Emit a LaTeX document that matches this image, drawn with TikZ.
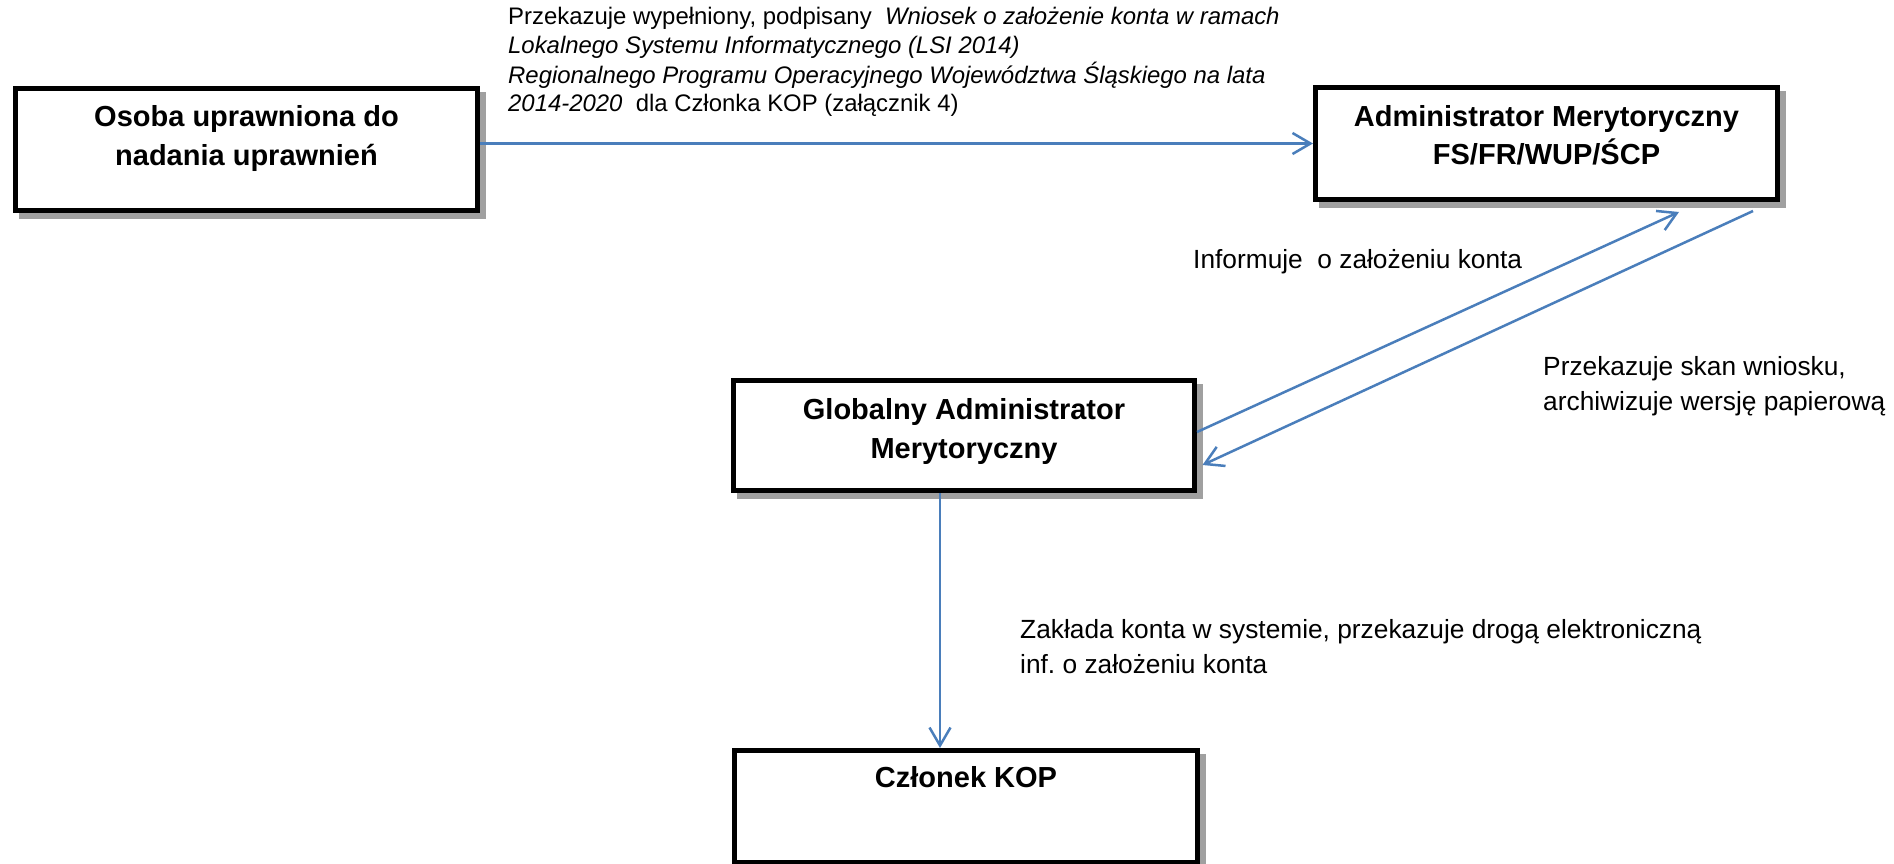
\documentclass[tikz,border=0pt]{standalone}
\usepackage{fontspec}
\setmainfont{Liberation Sans}
\frenchspacing
\usetikzlibrary{arrows.meta,calc,shadows}
\definecolor{arrowblue}{RGB}{74,126,187}
\definecolor{shadowgray}{RGB}{160,160,160}
\begin{document}
\begin{tikzpicture}[x=1pt,y=-1pt,
  box/.style={draw=black, line width=5pt, fill=white, rectangle, inner sep=0pt,
     drop shadow={shadow xshift=6pt, shadow yshift=-6pt, fill=shadowgray, draw=shadowgray, line width=5pt, opacity=1}},
  boxtext/.style={anchor=base, inner sep=0pt, font=\fontsize{29}{39}\selectfont\bfseries},
  lbl/.style={anchor=base west, inner sep=0pt, font=\fontsize{26.3}{35}\selectfont},
  smalllbl/.style={lbl, font=\fontsize{23.9}{28.4}\selectfont},
  flow/.style={draw=arrowblue, line width=2.5pt, -{Straight Barb[length=18pt,width=21pt]}},
]
\useasboundingbox (0,0) rectangle (1894,864);

% boxes
\node[box, minimum width=462pt, minimum height=122pt] (b1) at (246.5,149.5) {};
\node[box, minimum width=462pt, minimum height=112pt] (b2) at (1546.5,143.5) {};
\node[box, minimum width=461pt, minimum height=110pt] (b3) at (964,435.5) {};
\node[box, minimum width=463pt, minimum height=112pt] (b4) at (966,806.5) {};

% box texts
\node[boxtext] (t1) at ($(b1.north)+(0,41)$) {\begin{tabular}[t]{@{}c@{}}Osoba uprawniona do\\nadania uprawnień\end{tabular}};
\node[boxtext] (t2) at ($(b2.north)+(0,41)$) {\begin{tabular}[t]{@{}c@{}}Administrator Merytoryczny\\FS/FR/WUP/ŚCP\end{tabular}};
\node[boxtext] (t3) at ($(b3.north)+(0,41)$) {\begin{tabular}[t]{@{}c@{}}Globalny Administrator\\Merytoryczny\end{tabular}};
\node[boxtext] (t4) at ($(b4.north)+(0,39)$) {Członek KOP};

% connectors
\draw[flow] (b1.east |- b2.west) -- (b2.west);
\coordinate (aEnd) at ($(b2.south)+(132.5,10)$);
\draw[flow] ($(b3.east)+(0,-3.5)$) -- (aEnd);
\coordinate (bStart) at ($(b2.south)+(206.5,9)$);
\coordinate (bEnd) at ($(b3.east)+(5.5,29.5)$);
\draw[flow] (bStart) -- (bEnd);
\draw[flow] ($(b3.south)+(-24,0)$) -- ($(b4.north)+(-26,0)$);

% labels
\node[smalllbl] (l1) at (508,25) {\begin{tabular}[t]{@{}l@{}}Przekazuje wypełniony, podpisany\ \ \textit{Wniosek o założenie konta w ramach}\\
\textit{Lokalnego Systemu Informatycznego (LSI 2014)}\\
\textit{Regionalnego Programu Operacyjnego Województwa Śląskiego na lata}\\
\textit{2014-2020}\ \ dla Członka KOP (załącznik 4)\end{tabular}};
\node[lbl] (l2) at (1193,268) {Informuje\ \ o założeniu konta};
\node[lbl] (l3) at (1543,375) {\begin{tabular}[t]{@{}l@{}}Przekazuje skan wniosku,\\archiwizuje wersję papierową\end{tabular}};
\node[lbl] (l4) at (1020,638) {\begin{tabular}[t]{@{}l@{}}Zakłada konta w systemie, przekazuje drogą elektroniczną\\inf. o założeniu konta\end{tabular}};
\end{tikzpicture}
\end{document}
